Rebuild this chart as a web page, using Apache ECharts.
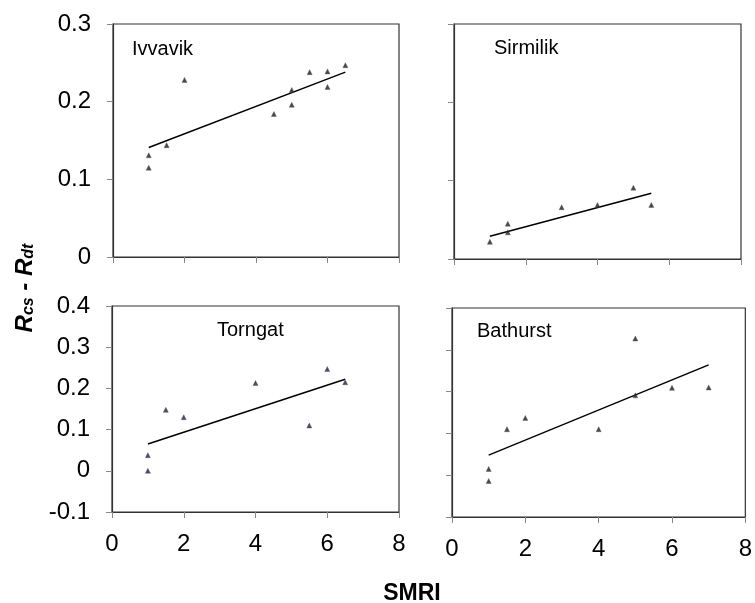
<!DOCTYPE html>
<html>
<head>
<meta charset="utf-8">
<script src="https://cdn.jsdelivr.net/npm/echarts@6/dist/echarts.min.js"></script>
<style>
  html, body { margin: 0; padding: 0; background: #fff; }
  #chart { width: 755px; height: 603px; }
</style>
</head>
<body>
<div id="chart"></div>
<script>
// panel names
const sites = ['Ivvavik', 'Sirmilik', 'Torngat', 'Bathurst'];

// observed points (SMRI, Rcs - Rdt)
const ivvavikX = [1, 1, 1.5, 2, 4.5, 5, 5, 5.5, 6, 6, 6.5];
const ivvavikY = [0.131, 0.115, 0.144, 0.228, 0.184, 0.196, 0.215, 0.238, 0.239, 0.219, 0.247];
const sirmilikX = [1, 1.5, 1.5, 3, 4, 5, 5.5];
const sirmilikY = [0.022, 0.034, 0.045, 0.066, 0.069, 0.091, 0.069];
const torngatX = [1, 1, 1.5, 2, 4, 5.5, 6, 6.5];
const torngatY = [0.038, 0.0, 0.148, 0.13, 0.213, 0.11, 0.247, 0.215];
const bathurstX = [1, 1, 1.5, 2, 4, 5, 5, 6, 7];
const bathurstY = [-0.014, 0.015, 0.11, 0.137, 0.11, 0.327, 0.191, 0.209, 0.21];

// fitted lines (end points)
const ivvavikFitX = [1, 6.5];
const ivvavikFitY = [0.141, 0.238];
const sirmilikFitX = [1, 5.5];
const sirmilikFitY = [0.029, 0.084];
const torngatFitX = [1, 6.5];
const torngatFitY = [0.065, 0.222];
const bathurstFitX = [1, 7];
const bathurstFitY = [0.048, 0.264];

// axis ranges
const xTicks = [0, 2, 4, 6, 8];
const yTopRange = [0, 0.3];
const yBottomRange = [-0.1, 0.4];

const pts = [[ivvavikX, ivvavikY], [sirmilikX, sirmilikY], [torngatX, torngatY], [bathurstX, bathurstY]];
const fits = [[ivvavikFitX, ivvavikFitY], [sirmilikFitX, sirmilikFitY], [torngatFitX, torngatFitY], [bathurstFitX, bathurstFitY]];
const markerColors = ['#1a1a1a', '#1a1a1a', '#1b1b4d', '#1a1a1a'];

const zip = (xs, ys) => xs.map((x, i) => [x, ys[i]]);

const grids = [
  { left: 113, top: 24, width: 286, height: 233 },
  { left: 454, top: 24, width: 287, height: 235 },
  { left: 112, top: 306, width: 287, height: 206 },
  { left: 452, top: 308, width: 296, height: 209 }
];

const axisText = { fontFamily: 'Liberation Sans, Arial, sans-serif', fontSize: 24, color: '#000' };

let chart = echarts.init(document.getElementById('chart'));

chart.setOption({
  backgroundColor: '#fff',
  animation: false,
  title: sites.map((s, i) => ({
    text: s,
    left: [132, 494, 217, 477][i],
    top: [39, 38, 320, 321][i],
    textStyle: { fontFamily: 'Liberation Sans, Arial, sans-serif', fontSize: 20, fontWeight: 'normal', color: '#000' },
    padding: 0
  })),
  grid: grids.map(g => Object.assign({ show: true, borderColor: '#333', borderWidth: 1.2, backgroundColor: 'transparent' }, g)),
  xAxis: grids.map((g, i) => ({
    type: 'value',
    gridIndex: i,
    min: xTicks[0],
    max: xTicks[xTicks.length - 1],
    interval: 2,
    axisLine: { show: true, onZero: false, lineStyle: { color: '#333', width: 1.2 } },
    axisTick: { show: true, inside: false, length: 6, lineStyle: { color: '#888' } },
    splitLine: { show: false },
    axisLabel: Object.assign({ show: i >= 2, margin: 20 }, axisText)
  })),
  yAxis: grids.map((g, i) => {
    const r = i < 2 ? yTopRange : yBottomRange;
    return {
      type: 'value',
      gridIndex: i,
      min: r[0],
      max: r[1],
      interval: 0.1,
      axisLine: { show: true, onZero: false, lineStyle: { color: '#333', width: 1.2 } },
      axisTick: { show: true, inside: false, length: 6, lineStyle: { color: '#888' } },
      splitLine: { show: false },
      axisLabel: Object.assign({
        show: i % 2 === 0,
        margin: 22,
        formatter: v => {
          const n = Math.round(v * 10) / 10;
          return n === 0 ? '0' : String(n);
        }
      }, axisText)
    };
  }),
  graphic: [
    {
      type: 'text',
      x: 25,
      y: 288,
      rotation: Math.PI / 2,
      style: {
        text: '{r|R}{s|cs}{r| - R}{s|dt}',
        align: 'center',
        verticalAlign: 'middle',
        rich: {
          r: { fontFamily: 'Liberation Sans, Arial, sans-serif', fontSize: 24, fontWeight: 'bold', fontStyle: 'italic', fill: '#000' },
          s: { fontFamily: 'Liberation Sans, Arial, sans-serif', fontSize: 16, fontWeight: 'bold', fontStyle: 'italic', fill: '#000', verticalAlign: 'bottom', padding: [8, 0, 0, 0] }
        }
      }
    },
    {
      type: 'text',
      x: 412,
      y: 594,
      style: {
        text: 'SMRI',
        align: 'center',
        verticalAlign: 'middle',
        fontFamily: 'Liberation Sans, Arial, sans-serif',
        fontSize: 23,
        fontWeight: 'bold',
        fill: '#000'
      }
    }
  ],
  series: [].concat(
    pts.map((p, i) => ({
      type: 'scatter',
      xAxisIndex: i,
      yAxisIndex: i,
      symbol: 'triangle',
      symbolSize: 5,
      itemStyle: { color: markerColors[i], borderColor: '#555', borderWidth: 0.5 },
      data: zip(p[0], p[1]),
      z: 3
    })),
    fits.map((f, i) => ({
      type: 'line',
      xAxisIndex: i,
      yAxisIndex: i,
      symbol: 'none',
      lineStyle: { color: '#000', width: 1.5 },
      data: zip(f[0], f[1]),
      z: 2
    }))
  )
});
</script>
</body>
</html>
